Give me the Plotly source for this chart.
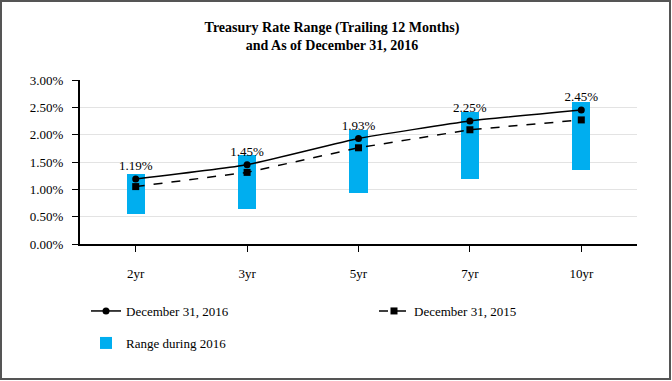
import plotly.graph_objects as go

categories = ["2yr", "3yr", "5yr", "7yr", "10yr"]
dec_2016 = [1.19, 1.45, 1.93, 2.25, 2.45]
dec_2015 = [1.05, 1.31, 1.76, 2.09, 2.27]
range_low = [0.54, 0.64, 0.93, 1.19, 1.36]
range_high = [1.28, 1.62, 2.09, 2.42, 2.60]
label_text = ["1.19%", "1.45%", "1.93%", "2.25%", "2.45%"]
y_ticks = [0.0, 0.5, 1.0, 1.5, 2.0, 2.5, 3.0]

FONT = "Liberation Serif"
W, H = 672, 381
ML, MR, MT, MB = 80, 35, 80, 137

fig = go.Figure()

fig.add_trace(go.Bar(
    x=categories,
    y=[h - l for h, l in zip(range_high, range_low)],
    base=range_low,
    name="Range during 2016",
    marker=dict(color="#00AEEF", line=dict(width=0)),
    width=0.165,
    legend="legend2",
    hoverinfo="skip",
))

fig.add_trace(go.Scatter(
    x=categories, y=dec_2015,
    mode="lines+markers",
    name="December 31, 2015",
    line=dict(color="black", width=1.5, dash="dash"),
    marker=dict(symbol="square", size=7, color="black"),
    legend="legend3",
))

fig.add_trace(go.Scatter(
    x=categories, y=dec_2016,
    mode="lines+markers+text",
    name="December 31, 2016",
    line=dict(color="black", width=1.5, shape="spline", smoothing=0.4),
    marker=dict(symbol="circle", size=7, color="black"),
    text=label_text,
    textposition="top center",
    textfont=dict(family=FONT, size=13, color="black"),
    legend="legend",
))

pw = W - ML - MR
ph = H - MT - MB
fig.add_shape(
    type="rect", xref="paper", yref="paper",
    x0=(1 - ML) / pw, x1=(670 - ML) / pw,
    y0=(H - MB - 379) / ph, y1=(H - MB - 1) / ph,
    line=dict(color="#555555", width=2),
    fillcolor="rgba(0,0,0,0)",
)

def leg(x_px, y_px):
    return dict(
        orientation="h",
        x=x_px / W, xanchor="left", xref="container",
        y=(H - y_px) / H, yanchor="middle", yref="container",
        font=dict(family=FONT, size=13), bgcolor="rgba(0,0,0,0)",
    )

fig.update_layout(
    width=W, height=H,
    margin=dict(l=ML, r=MR, t=MT, b=MB, autoexpand=False),
    paper_bgcolor="white", plot_bgcolor="white",
    font=dict(family=FONT, size=13, color="black"),
    title=dict(
        text="<b>Treasury Rate Range (Trailing 12 Months)<br>and As of December 31, 2016</b>",
        x=0.494, xanchor="center", xref="container",
        y=1 - 32 / H, yanchor="middle", yref="container",
        font=dict(family=FONT, size=14, color="black"),
    ),
    showlegend=True,
    legend=leg(86, 311),
    legend3=leg(374, 311),
    legend2=leg(86, 343),
    xaxis=dict(
        type="category",
        showline=True, linecolor="black", linewidth=2,
        ticks="outside", ticklen=6, tickcolor="black", tickwidth=1,
        ticklabelstandoff=10,
        showgrid=False,
        tickfont=dict(family=FONT, size=13),
    ),
    yaxis=dict(
        range=[0, 3.0],
        tickvals=y_ticks,
        ticktext=[f"{v:.2f}%" for v in y_ticks],
        showline=True, linecolor="black", linewidth=2,
        ticks="outside", ticklen=6, tickcolor="black", tickwidth=1,
        ticklabelstandoff=6,
        showgrid=True, gridcolor="#E3E3E3", gridwidth=1,
        zeroline=False,
        tickfont=dict(family=FONT, size=13),
    ),
    bargap=0,
)

fig.write_html(
    "out.html",
    config={"displayModeBar": False},
    post_script="document.body.style.margin='0';document.body.style.padding='0';",
)
